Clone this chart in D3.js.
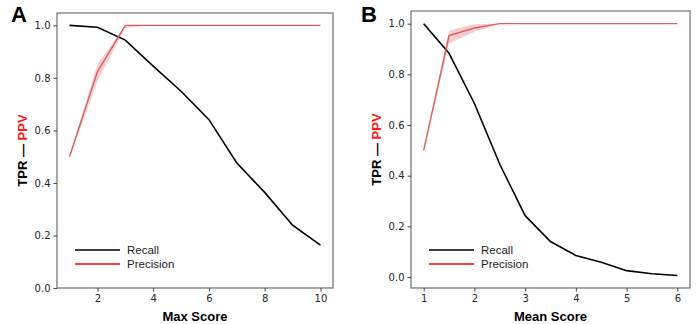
<!DOCTYPE html>
<html>
<head>
<meta charset="utf-8">
<script src="https://cdn.jsdelivr.net/npm/d3@7"></script>
<style>
  body { margin: 0; background: #fff; }
  svg { font-family: "DejaVu Sans", sans-serif; }
</style>
</head>
<body>
<div id="chart"></div>
<script>
// panel A: max score
const maxScores = [1, 2, 3, 4, 5, 6, 7, 8, 9, 10];
const maxRecall = [1.0, 0.993, 0.944, 0.845, 0.749, 0.641, 0.476, 0.364, 0.239, 0.163];
const maxPrecision = [0.5, 0.823, 1.0, 1.0, 1.0, 1.0, 1.0, 1.0, 1.0, 1.0];
const maxPrecLow = [0.495, 0.787, 0.99, 1.0, 1.0, 1.0, 1.0, 1.0, 1.0, 1.0];
const maxPrecHigh = [0.505, 0.851, 1.0, 1.0, 1.0, 1.0, 1.0, 1.0, 1.0, 1.0];
const maxTicks = [2, 4, 6, 8, 10];

// panel B: mean score
const meanScores = [1, 1.5, 2, 2.5, 3, 3.5, 4, 4.5, 5, 5.5, 6];
const meanRecall = [1.0, 0.883, 0.685, 0.445, 0.242, 0.14, 0.085, 0.058, 0.025, 0.013, 0.006];
const meanPrecision = [0.5, 0.953, 0.983, 1.0, 1.0, 1.0, 1.0, 1.0, 1.0, 1.0, 1.0];
const meanPrecLow = [0.495, 0.922, 0.968, 1.0, 1.0, 1.0, 1.0, 1.0, 1.0, 1.0, 1.0];
const meanPrecHigh = [0.505, 0.972, 0.998, 1.0, 1.0, 1.0, 1.0, 1.0, 1.0, 1.0, 1.0];
const meanTicks = [1, 2, 3, 4, 5, 6];

const yTicks = [0, 0.2, 0.4, 0.6, 0.8, 1.0];

const svg = d3.select("#chart").append("svg")
    .attr("width", 699)
    .attr("height", 324);

const drawPanel = (opts) => {
    const { left, right, top, bottom, xDomain, yDomain, xs, recall, prec, low, high, xTicks, xTitle, letter, letterX } = opts;

    const x = d3.scaleLinear().domain(xDomain).range([left, right]);
    const y = d3.scaleLinear().domain(yDomain).range([bottom, top]);

    const g = svg.append("g");

    // shaded band for precision
    const rows = xs.map((v, i) => ({ x: v, r: recall[i], p: prec[i], lo: low[i], hi: high[i] }));
    g.append("path")
        .datum(rows)
        .attr("d", d3.area().x(d => x(d.x)).y0(d => y(d.lo)).y1(d => y(d.hi)))
        .attr("fill", "#e8a5a5")
        .attr("opacity", 0.55);

    g.append("path")
        .datum(rows)
        .attr("d", d3.line().x(d => x(d.x)).y(d => y(d.r)))
        .attr("fill", "none")
        .attr("stroke", "#000")
        .attr("stroke-width", 1.6);

    g.append("path")
        .datum(rows)
        .attr("d", d3.line().x(d => x(d.x)).y(d => y(d.p)))
        .attr("fill", "none")
        .attr("stroke", "#d9605e")
        .attr("stroke-width", 1.4);

    // frame
    g.append("rect")
        .attr("x", left).attr("y", top)
        .attr("width", right - left).attr("height", bottom - top)
        .attr("fill", "none")
        .attr("stroke", "#6e6e6e")
        .attr("stroke-width", 1.2);

    const xAxis = g.append("g")
        .attr("transform", `translate(0,${bottom})`)
        .call(d3.axisBottom(x).tickValues(xTicks).tickSize(3.5).tickPadding(3).tickFormat(d3.format("d")));
    const yAxis = g.append("g")
        .attr("transform", `translate(${left},0)`)
        .call(d3.axisLeft(y).tickValues(yTicks).tickSize(3.5).tickPadding(3).tickFormat(d3.format(".1f")));

    [xAxis, yAxis].forEach(a => {
        a.select(".domain").remove();
        a.selectAll(".tick line").attr("stroke", "#444");
        a.selectAll(".tick text")
            .attr("fill", "#262626")
            .style("font-size", "10px")
            .style("font-family", "DejaVu Sans, sans-serif");
    });

    // axis titles
    g.append("text")
        .attr("x", (left + right) / 2)
        .attr("y", 321)
        .attr("text-anchor", "middle")
        .style("font-family", "Liberation Sans, Arial, sans-serif")
        .style("font-weight", "bold")
        .style("font-size", "13px")
        .text(xTitle);

    const yt = g.append("text")
        .attr("transform", `translate(${left - 30},${(top + bottom) / 2}) rotate(-90)`)
        .attr("text-anchor", "middle")
        .style("font-family", "Liberation Sans, Arial, sans-serif")
        .style("font-weight", "bold")
        .style("font-size", "13px");
    yt.append("tspan").attr("fill", "#000").text("TPR \u2014 ");
    yt.append("tspan").attr("fill", "#ff1a1a").text("PPV");

    // panel letter
    g.append("text")
        .attr("x", letterX)
        .attr("y", 22)
        .style("font-family", "Liberation Sans, Arial, sans-serif")
        .style("font-weight", "bold")
        .style("font-size", "22px")
        .text(letter);

    // legend
    const legend = [
        { name: "Recall", color: "#000", dy: 0 },
        { name: "Precision", color: "#ff0000", dy: 14 }
    ];
    const lx = left + 18;
    const ly = opts.legendY;
    legend.forEach(l => {
        g.append("line")
            .attr("x1", lx).attr("x2", lx + 45)
            .attr("y1", ly + l.dy).attr("y2", ly + l.dy)
            .attr("stroke", l.color)
            .attr("stroke-width", 1.6);
        g.append("text")
            .attr("x", lx + 52)
            .attr("y", ly + l.dy + 4)
            .attr("fill", "#222")
            .style("font-family", "Liberation Sans, Arial, sans-serif")
            .style("font-size", "11.5px")
            .text(l.name);
    });
};

drawPanel({
    left: 57, right: 333, top: 13, bottom: 288,
    xDomain: [0.55, 10.45], yDomain: [0, 1.047],
    xs: maxScores, recall: maxRecall, prec: maxPrecision, low: maxPrecLow, high: maxPrecHigh,
    xTicks: maxTicks, xTitle: "Max Score", letter: "A", letterX: 11, legendY: 250
});

drawPanel({
    left: 411, right: 690, top: 11, bottom: 288,
    xDomain: [0.75, 6.25], yDomain: [-0.0435, 1.05],
    xs: meanScores, recall: meanRecall, prec: meanPrecision, low: meanPrecLow, high: meanPrecHigh,
    xTicks: meanTicks, xTitle: "Mean Score", letter: "B", letterX: 361, legendY: 250
});
</script>
</body>
</html>
